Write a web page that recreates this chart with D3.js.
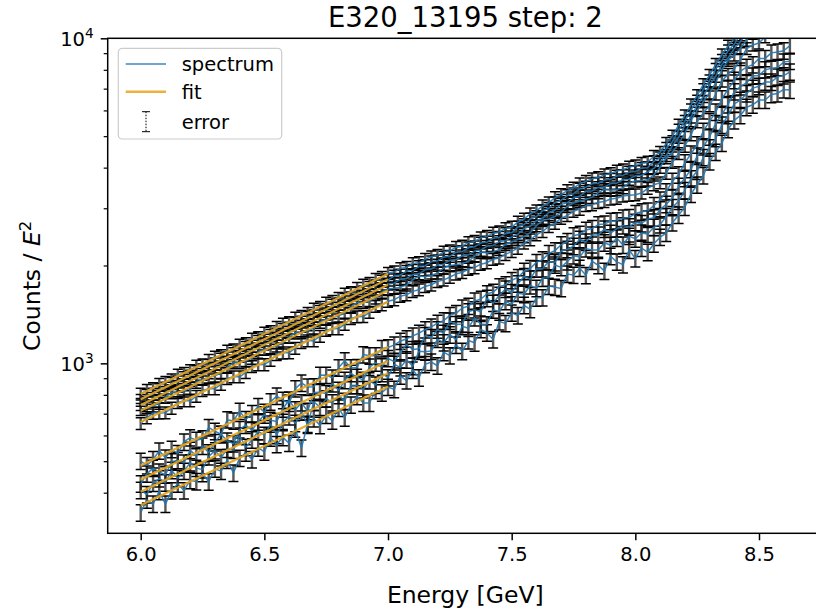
<!DOCTYPE html>
<html><head><meta charset="utf-8">
<script src="https://cdn.jsdelivr.net/npm/d3@7"></script>
<style>
html,body{margin:0;padding:0;background:#fff;}
svg{display:block;font-family:"DejaVu Sans",sans-serif;}
</style></head><body>
<svg id="chart" width="816" height="609"></svg>
<script>
const titleText = "E320_13195 step: 2";
const xLabel = "Energy [GeV]";
const xTicks = [6.0, 6.5, 7.0, 7.5, 8.0, 8.5];
const yMajorTicks = [1000, 10000];
const yMinorTicks = [400,500,600,700,800,900,2000,3000,4000,5000,6000,7000,8000,9000];
const legendLabels = ["spectrum", "fit", "error"];

const energy = [
6.000,6.025,6.050,6.075,6.100,6.125,6.150,6.175,6.200,6.225,
6.250,6.275,6.300,6.325,6.350,6.375,6.400,6.425,6.450,6.475,
6.500,6.525,6.550,6.575,6.600,6.625,6.650,6.675,6.700,6.725,
6.750,6.775,6.800,6.825,6.850,6.875,6.900,6.925,6.950,6.975,
7.000,7.025,7.050,7.075,7.100,7.125,7.150,7.175,7.200,7.225,
7.250,7.275,7.300,7.325,7.350,7.375,7.400,7.425,7.450,7.475,
7.500,7.525,7.550,7.575,7.600,7.625,7.650,7.675,7.700,7.725,
7.750,7.775,7.800,7.825,7.850,7.875,7.900,7.925,7.950,7.975,
8.000,8.025,8.050,8.075,8.100,8.125,8.150,8.175,8.200,8.225,
8.250,8.275,8.300,8.325,8.350,8.375,8.400,8.425,8.450,8.475,
8.500,8.525,8.550,8.575,8.600,8.625];

const upper1 = [
805,826,836,862,874,890,921,932,951,981,
990,1022,1046,1056,1090,1101,1138,1150,1188,1200,
1240,1252,1290,1322,1335,1378,1396,1425,1470,1488,
1532,1552,1585,1634,1652,1702,1740,1762,1815,1840,
1892,1912,1958,1976,2026,2042,2090,2128,2148,2200,
2220,2275,2296,2352,2375,2432,2458,2515,2540,2598,
2625,2722,2780,2884,2946,3052,3120,3235,3305,3400,
3462,3565,3628,3695,3728,3800,3834,3905,3940,4015,
4052,4125,4165,4335,4460,4750,5005,5405,5780,6240,
6670,7210,7700,8320,8900,9470,9990,10630,11200,11650,
12010,12480,12860,13370,13780,14320];
const upper2 = [
770,797,805,831,840,868,877,905,914,944,
955,986,996,1030,1040,1072,1085,1120,1130,1168,
1180,1220,1230,1272,1285,1328,1340,1386,1400,1446,
1460,1510,1524,1574,1590,1642,1660,1715,1732,1790,
1806,1856,1870,1920,1932,1985,1998,2052,2066,2122,
2136,2194,2208,2268,2284,2345,2360,2425,2440,2506,
2525,2625,2674,2780,2830,2945,3000,3118,3176,3282,
3326,3440,3484,3566,3582,3668,3682,3770,3785,3875,
3892,3984,4000,4180,4286,4585,4808,5218,5553,6025,
6410,6958,7405,8035,8550,9145,9595,10262,10765,11250,
11530,12050,12350,12910,13230,13830];
const upper3 = [
748,756,781,790,815,824,850,860,888,898,
926,936,968,976,1010,1018,1052,1062,1098,1108,
1148,1158,1196,1208,1248,1260,1302,1316,1358,1372,
1420,1432,1480,1494,1545,1560,1612,1628,1682,1698,
1755,1765,1814,1824,1876,1886,1940,1950,2005,2018,
2074,2085,2143,2156,2216,2230,2292,2305,2370,2384,
2450,2495,2596,2642,2748,2798,2912,2962,3084,3120,
3230,3268,3382,3392,3476,3486,3574,3584,3672,3686,
3776,3790,3880,3978,4160,4360,4668,4960,5390,5730,
6220,6620,7185,7640,8300,8700,9310,9760,10450,10700,
11190,11470,11990,12280,12840,13160];
const upper4 = [
722,730,739,754,787,812,813,822,839,875,
893,904,915,934,973,1004,1005,1017,1038,1083,
1106,1118,1131,1155,1204,1241,1243,1258,1284,1339,
1368,1384,1399,1429,1489,1536,1539,1556,1590,1656,
1692,1703,1715,1743,1808,1856,1851,1864,1896,1965,
1999,2012,2026,2060,2137,2195,2188,2202,2239,2323,
2362,2407,2453,2523,2650,2754,2779,2831,2915,3042,
3113,3154,3196,3240,3351,3432,3412,3424,3472,3592,
3641,3655,3669,3798,4010,4290,4455,4739,5093,5583,
6000,6384,6791,7297,8001,8560,8889,9322,9875,10427,
10792,11059,11332,11729,12385,12944];
const upper5 = [
653,681,703,704,705,728,758,767,767,792,
825,835,836,862,899,909,909,938,978,990,
991,1022,1066,1077,1078,1113,1159,1173,1174,1212,
1264,1278,1279,1320,1375,1391,1393,1436,1498,1515,
1552,1570,1608,1626,1665,1684,1724,1744,1786,1806,
1840,1885,1903,1950,1970,2019,2040,2090,2110,2163,
2210,2262,2345,2400,2486,2546,2636,2700,2795,2850,
2936,2982,3058,3078,3128,3148,3202,3222,3272,3292,
3300,3341,3456,3542,3593,3845,4155,4421,4655,5054,
5541,5895,6208,6739,7388,7749,8044,8608,9303,9533,
9670,10110,10676,10940,11096,11602];
const lower1 = [
500,485,506,538,512,544,528,573,591,580,
586,635,618,605,671,665,713,672,701,737,
708,762,793,770,755,836,870,846,847,919,
920,902,969,1019,970,971,1064,1055,1055,1111,
1118,1140,1170,1190,1215,1238,1270,1295,1330,1352,
1405,1425,1480,1500,1556,1575,1637,1655,1722,1745,
1800,1838,1920,1958,2045,2085,2178,2222,2318,2370,
2470,2496,2570,2598,2672,2685,2735,2748,2800,2812,
2890,2925,2945,3060,3180,3376,3636,3802,4141,4410,
4703,5181,5550,5930,6515,6980,7425,7929,8150,8296,
8666,8672,9019,9080,9158,9494];
const lower2 = [
426,457,476,463,454,498,503,494,540,519,
557,531,571,605,577,566,626,646,622,661,
695,668,662,725,771,720,757,712,814,815,
808,867,826,887,932,906,888,974,1004,976,
1036,1012,1080,1141,1103,1108,1218,1202,1269,1238,
1349,1316,1322,1441,1463,1441,1585,1532,1619,1693,
1652,1757,1850,1817,1952,1956,2059,2042,2216,2243,
2292,2409,2362,2484,2484,2589,2516,2597,2653,2631,
2716,2693,2779,2805,2970,3086,3225,3510,3711,3951,
4342,4643,4973,5475,5837,6254,6856,7104,7302,7660,
7687,8007,8082,8135,8455,8507];
const lower3 = [
407,395,428,442,429,469,443,466,495,476,
471,517,539,513,545,541,598,552,582,618,
601,651,601,659,686,654,709,646,761,733,
779,757,797,765,855,856,831,885,858,931,
904,994,970,1026,980,1090,1085,1091,1187,1158,
1225,1183,1301,1283,1382,1322,1314,1462,1441,1553,
1515,1644,1632,1735,1702,1830,1833,2008,1973,2057,
2144,2123,2254,2232,2232,2350,2308,2430,2313,2462,
2417,2519,2498,2624,2671,2830,3018,3155,3403,3697,
3904,4301,4607,4922,5408,5793,6287,6451,6765,7025,
7121,7344,7338,7611,7678,7880];
const lower4 = [
347,380,369,404,369,406,426,406,437,433,
459,432,474,466,504,460,511,531,506,550,
534,590,563,592,568,629,549,650,676,645,
693,665,729,680,745,791,755,755,826,812,
845,832,915,885,954,903,993,1009,983,1082,
1056,1139,1089,1175,1157,1272,1242,1184,1345,1327,
1430,1404,1509,1466,1592,1593,1728,1716,1700,1883,
1868,1963,1865,2064,2003,1922,2135,2052,2012,2232,
2102,2261,2197,2332,2445,2515,2709,2861,3024,3318,
3539,3784,4176,4463,4757,5252,5588,5790,6133,6243,
6456,6461,6720,6765,6960,6933];

const spectra = [upper1, upper2, upper3, upper4, upper5, lower1, lower2, lower3, lower4];
const relError = [0.042, 0.042, 0.042, 0.042, 0.042, 0.058, 0.058, 0.058, 0.058];
const fitRange = [6.0, 7.0];
const fitAt6 = [805, 775, 745, 715, 660, 485, 439, 403, 366];
const fitAt7 = [1886, 1816, 1745, 1675, 1547, 1123, 1016, 932, 848];

spectra.forEach((s, k) => { if (s.length !== energy.length) console.error("series " + k + " has " + s.length); });

const FONT = '"DejaVu Sans", sans-serif';
const plot = {left: 107.7, right: 822.9, top: 38.3, bottom: 533.3};
const x = d3.scaleLinear().domain([5.8666, 8.7584]).range([plot.left, plot.right]);
const y = d3.scaleLog().domain([300, 10000]).range([plot.bottom, plot.top]);

const spectrumColor = "#1f77b4";
const fitColor = "#e8a317";

const svg = d3.select("#chart");
svg.append("rect").attr("width", 816).attr("height", 609).attr("fill", "#fff");
svg.append("defs").append("clipPath").attr("id", "clip")
  .append("rect").attr("x", plot.left).attr("y", plot.top)
  .attr("width", plot.right - plot.left).attr("height", plot.bottom - plot.top);

const g = svg.append("g").attr("clip-path", "url(#clip)");
const gErr = g.append("g"), gSpec = g.append("g"), gFit = g.append("g");
const line = d3.line().x((d, i) => x(energy[i])).y(d => y(d));
const capHalf = 5;

spectra.forEach((s, k) => {
  const e = relError[k];
  let bars = "", caps = "";
  s.forEach((v, i) => {
    const px = x(energy[i]), y0 = y(v * (1 - e)), y1 = y(v * (1 + e));
    bars += `M${px},${y0}V${y1}`;
    caps += `M${px - capHalf},${y0}h${2 * capHalf}M${px - capHalf},${y1}h${2 * capHalf}`;
  });
  gErr.append("path").attr("d", bars).attr("fill", "none")
    .attr("stroke", "#111").attr("stroke-width", 2.4).attr("opacity", 0.7);
  gErr.append("path").attr("d", caps).attr("fill", "none")
    .attr("stroke", "#000").attr("stroke-width", 1.5);
  gSpec.append("path").attr("d", line(s)).attr("fill", "none")
    .attr("stroke", spectrumColor).attr("stroke-width", 1.5).attr("stroke-opacity", 0.9)
    .attr("stroke-linejoin", "round");
  gFit.append("line")
    .attr("x1", x(fitRange[0])).attr("y1", y(fitAt6[k]))
    .attr("x2", x(fitRange[1])).attr("y2", y(fitAt7[k]))
    .attr("stroke", fitColor).attr("stroke-opacity", 0.9).attr("stroke-width", 2.2);
});

// frame
svg.append("rect").attr("x", plot.left).attr("y", plot.top)
  .attr("width", plot.right - plot.left).attr("height", plot.bottom - plot.top)
  .attr("fill", "none").attr("stroke", "#000").attr("stroke-width", 1.5);

// x axis
const xAxisG = svg.append("g").attr("transform", `translate(0,${plot.bottom})`)
  .call(d3.axisBottom(x).tickValues(xTicks).tickFormat(d3.format(".1f")).tickSize(7).tickPadding(7));
xAxisG.select(".domain").remove();
xAxisG.selectAll(".tick line").attr("stroke", "#000").attr("stroke-width", 1.5);
xAxisG.selectAll(".tick text").attr("font-family", FONT).attr("font-size", 19.5).attr("fill", "#000");

// y axis minor
const yMinorG = svg.append("g").attr("transform", `translate(${plot.left},0)`)
  .call(d3.axisLeft(y).tickValues(yMinorTicks).tickFormat("").tickSize(4));
yMinorG.select(".domain").remove();
yMinorG.selectAll(".tick line").attr("stroke", "#000").attr("stroke-width", 1.2);

// y axis major
const yMajorG = svg.append("g").attr("transform", `translate(${plot.left},0)`)
  .call(d3.axisLeft(y).tickValues(yMajorTicks).tickFormat("").tickSize(7));
yMajorG.select(".domain").remove();
yMajorG.selectAll(".tick line").attr("stroke", "#000").attr("stroke-width", 1.5);
yMajorG.selectAll(".tick").each(function(d) {
  const t = d3.select(this).append("text")
    .attr("x", -14).attr("y", 7.2).attr("text-anchor", "end")
    .attr("font-family", FONT).attr("font-size", 19.5).attr("fill", "#000");
  t.append("tspan").text("10");
  t.append("tspan").attr("dy", -7.7).attr("font-size", 13.7).text(String(Math.round(Math.log10(d))));
});

// title
svg.append("text").attr("x", (plot.left + plot.right) / 2).attr("y", 27)
  .attr("text-anchor", "middle").attr("font-family", FONT).attr("font-size", 27.5)
  .attr("fill", "#000").text(titleText);

// x label
svg.append("text").attr("x", (plot.left + plot.right) / 2).attr("y", 603)
  .attr("text-anchor", "middle").attr("font-family", FONT).attr("font-size", 23.5)
  .attr("fill", "#000").text(xLabel);

// y label
const yl = svg.append("text").attr("transform", `translate(40,${(plot.top + plot.bottom) / 2}) rotate(-90)`)
  .attr("text-anchor", "middle").attr("font-family", FONT).attr("font-size", 23.5).attr("fill", "#000");
yl.append("tspan").text("Counts / ");
yl.append("tspan").attr("font-style", "italic").text("E");
yl.append("tspan").attr("dy", -9).attr("font-size", 16.5).text("2");

// legend
const lg = svg.append("g");
lg.append("rect").attr("x", 118.3).attr("y", 48.3).attr("width", 163.4).attr("height", 90.7)
  .attr("rx", 4).attr("fill", "#fff").attr("fill-opacity", 0.8).attr("stroke", "#cccccc").attr("stroke-width", 1.2);
const rowsY = [64, 91.7, 121.7];
lg.append("line").attr("x1", 125.7).attr("x2", 166).attr("y1", rowsY[0]).attr("y2", rowsY[0])
  .attr("stroke", spectrumColor).attr("stroke-opacity", 0.65).attr("stroke-width", 2);
lg.append("line").attr("x1", 125.7).attr("x2", 166).attr("y1", rowsY[1]).attr("y2", rowsY[1])
  .attr("stroke", fitColor).attr("stroke-opacity", 0.85).attr("stroke-width", 2.5);
lg.append("line").attr("x1", 146).attr("x2", 146).attr("y1", rowsY[2] - 10).attr("y2", rowsY[2] + 10)
  .attr("stroke", "#000").attr("stroke-width", 1).attr("stroke-dasharray", "1.5,1.5");
lg.append("path").attr("d", `M142,${rowsY[2] - 10}h8M142,${rowsY[2] + 10}h8`)
  .attr("stroke", "#000").attr("stroke-width", 1).attr("fill", "none");
legendLabels.forEach((t, i) => {
  lg.append("text").attr("x", 181.7).attr("y", rowsY[i] + 6.8)
    .attr("font-family", FONT).attr("font-size", 19.5).attr("fill", "#000").text(t);
});
</script>
</body></html>
